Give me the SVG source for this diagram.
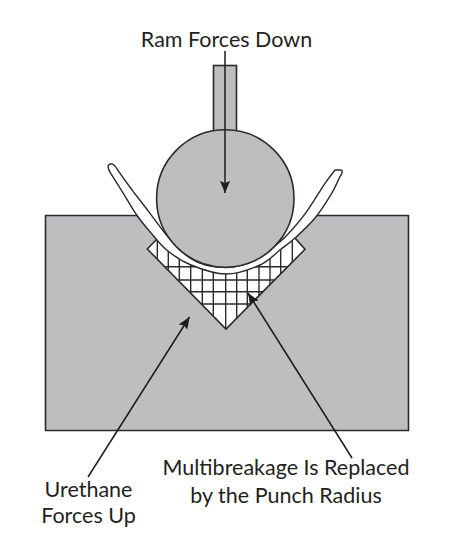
<svg xmlns="http://www.w3.org/2000/svg" width="474" height="542" viewBox="0 0 474 542">
<style>
.g{fill:#bcbec0;stroke:#2b2b2d;stroke-width:1.6}
.h{stroke:#2b2b2d;stroke-width:1.4;fill:none}
.a{stroke:#1c1c1e;stroke-width:1.5;fill:none;marker-end:url(#ah)}
text{font-family:"Lato","Open Sans","Liberation Sans",sans-serif;font-size:21.500px;fill:#231f20;text-anchor:middle}
</style>
<defs>
<marker id="ah" markerUnits="userSpaceOnUse" markerWidth="14" markerHeight="12" refX="12" refY="5" orient="auto"><path d="M0 0L12 5L0 10L2 5Z" fill="#1c1c1e"/></marker>
<clipPath id="c"><path d="M147.300 249L226 329L305 249.300L226 170Z"/></clipPath>
</defs>
<rect width="474" height="542" fill="#fff"/>
<g id="die"><path class="g" d="M45.500 215.500H137L157 239L147.300 249L226 329L305 249.300L295 238L316.700 215.500H408.500V430.500H45.500Z"/></g>
<g id="urethane">
<path class="h" clip-path="url(#c)" d="M157.300 170V330M168.300 170V330M179.300 170V330M190.700 170V330M202.300 170V330M213.300 170V330M225.700 170V330M236.700 170V330M247.300 170V330M259 170V330M270 170V330M280.700 170V330M292.300 170V330M140 266.700H310M140 280H310M140 291.700H310M140 304H310"/>
</g>
<g id="strip"><path d="M108 166C108 170 110 172 111.700 175C113.600 178 119.100 186.600 123.300 193.300C127.500 200 132.300 208.600 136.700 215C141.100 221.400 145 225.900 150 231.700C155 237.500 159.900 244.400 166.700 250C173.500 255.600 181.100 261 191 265C200.900 269 214.500 274 226 274C237.500 274 251 269 260 265C269 261 274.200 254.500 280 250C285.800 245.500 289.200 243.300 295 238C300.800 232.700 308.900 225.400 315 218C321.100 210.600 327.500 200.200 331.700 193.300C335.900 186.400 338 180 340 176.700C343 172 343 170 340 170L335 170C333 173 329.700 176.300 325 183.300C320.300 190.300 312 204.200 306.700 211.700C301.400 219.200 297.800 223.300 293.300 228.300C288.800 233.300 285.600 237 280 241.700C274.500 246.400 267 252 260 256.700C250 263 238 267.500 226 267.500C212 267.500 200 265 190 258C180 251 172 242 165 233.300C160 227 155 220 150 213.300C144.500 206 139 199 133.300 191.700C127 183 121 175 116 167.300C114 164 110 162 108 166Z" fill="#fff" stroke="#2b2b2d" stroke-width="1.400"/></g>
<g id="punch">
<rect class="g" x="213.500" y="65.500" width="23" height="66"/>
<circle class="g" cx="225.300" cy="198.500" r="68.700"/>
</g>
<g id="connectors">
<path class="a" d="M225 51V193"/>
<path class="a" d="M88 477L189.500 317"/>
<path class="a" d="M352 458L248 293"/>
</g>
<g id="labels">
<text x="226.500" y="47">Ram Forces Down</text>
<text x="286" y="475">Multibreakage Is Replaced</text>
<text x="286" y="503">by the Punch Radius</text>
<text x="88.500" y="497">Urethane</text>
<text x="88.500" y="523">Forces Up</text>
</g>
</svg>
